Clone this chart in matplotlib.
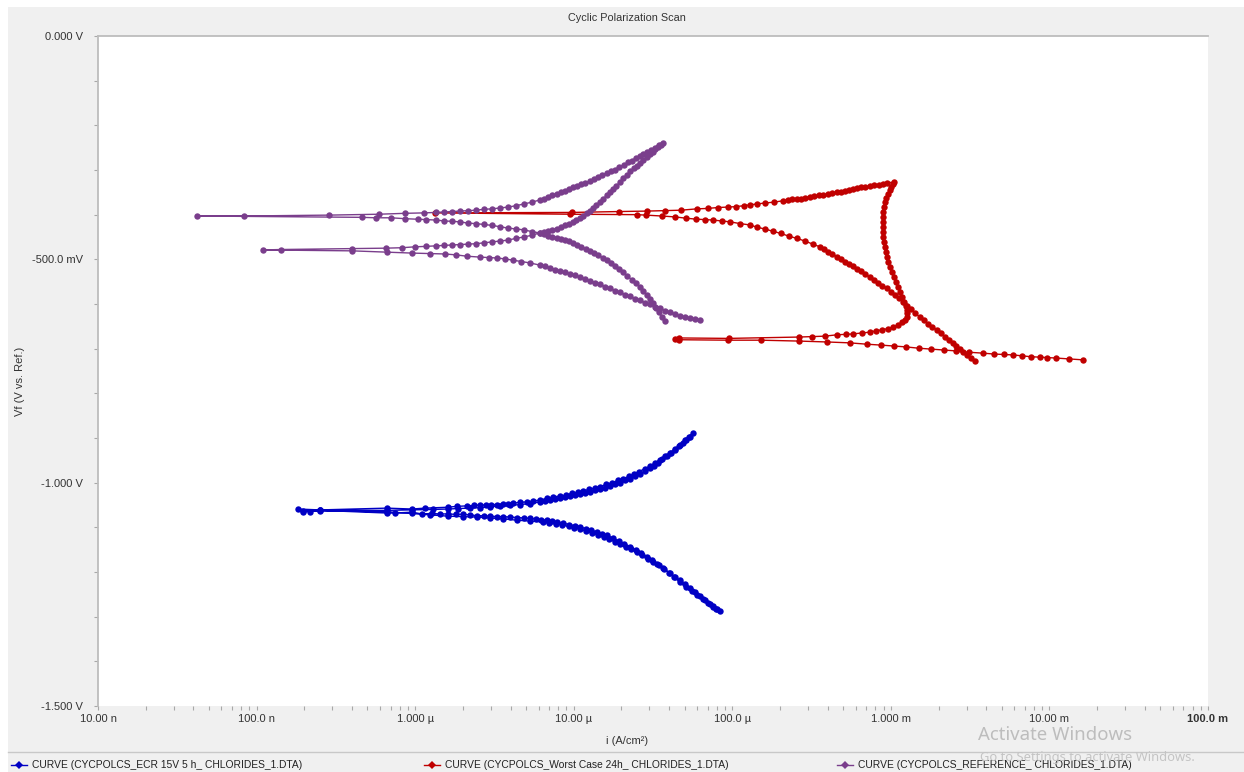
import matplotlib
matplotlib.use("Agg")
import matplotlib.pyplot as plt
import numpy as np
from matplotlib.lines import Line2D
from matplotlib.patches import Rectangle

plt.rcParams['font.family'] = ['Liberation Sans', 'DejaVu Sans']

# ---------------- data: current density (A/cm^2) and potential (V vs. Ref.) ----------------
# CYCPOLCS_ECR 15V 5 h_ CHLORIDES_1  (blue)
ecr_cath_fwd_i = [8.35e-5, 7.88e-5, 7.54e-5, 7.02e-5, 6.52e-5, 5.98e-5, 5.56e-5, 5.10e-5, 4.67e-5, 4.28e-5,
                  3.98e-5, 3.65e-5, 3.35e-5, 3.11e-5, 2.89e-5, 2.65e-5, 2.47e-5, 2.26e-5, 2.07e-5, 1.93e-5,
                  1.77e-5, 1.62e-5, 1.51e-5, 1.40e-5, 1.28e-5, 1.19e-5, 1.09e-5, 1.02e-5, 9.32e-6, 8.55e-6,
                  7.83e-6, 7.28e-6, 6.77e-6, 6.21e-6, 5.78e-6, 5.29e-6, 4.85e-6, 4.38e-6, 3.96e-6, 3.58e-6,
                  3.28e-6, 2.96e-6, 2.71e-6, 2.45e-6, 2.22e-6, 2.00e-6, 1.81e-6, 1.61e-6, 1.43e-6, 1.28e-6,
                  1.10e-6, 9.54e-7, 7.45e-7, 6.64e-7, 2.51e-7, 2.17e-7, 1.96e-7, 1.82e-7]
ecr_cath_fwd_v = [-1.287, -1.283, -1.278, -1.269, -1.260, -1.252, -1.243, -1.234, -1.222, -1.211,
                  -1.202, -1.191, -1.182, -1.173, -1.166, -1.157, -1.151, -1.144, -1.137, -1.131,
                  -1.124, -1.118, -1.114, -1.110, -1.106, -1.103, -1.099, -1.096, -1.094, -1.090,
                  -1.088, -1.086, -1.084, -1.083, -1.081, -1.080, -1.079, -1.078, -1.077, -1.076,
                  -1.076, -1.075, -1.074, -1.074, -1.072, -1.071, -1.071, -1.070, -1.070, -1.069,
                  -1.070, -1.066, -1.068, -1.068, -1.062, -1.065, -1.065, -1.059]
ecr_anod_fwd_i = [2.51e-7, 6.64e-7, 9.54e-7, 1.15e-6, 1.61e-6, 1.83e-6, 2.12e-6, 2.35e-6, 2.56e-6, 2.79e-6,
                  3.01e-6, 3.28e-6, 3.58e-6, 3.85e-6, 4.14e-6, 4.58e-6, 5.07e-6, 5.53e-6, 6.12e-6, 6.77e-6,
                  7.39e-6, 8.18e-6, 8.93e-6, 9.74e-6, 1.06e-5, 1.14e-5, 1.25e-5, 1.36e-5, 1.46e-5, 1.60e-5,
                  1.74e-5, 1.90e-5, 2.04e-5, 2.23e-5, 2.40e-5, 2.58e-5, 2.81e-5, 3.02e-5, 3.25e-5, 3.49e-5,
                  3.76e-5, 4.04e-5, 4.34e-5, 4.67e-5, 5.02e-5, 5.32e-5, 5.64e-5]
ecr_anod_fwd_v = [-1.061, -1.057, -1.059, -1.057, -1.055, -1.053, -1.052, -1.051, -1.050, -1.050,
                  -1.049, -1.049, -1.048, -1.047, -1.046, -1.044, -1.043, -1.041, -1.039, -1.035,
                  -1.032, -1.030, -1.028, -1.024, -1.021, -1.019, -1.015, -1.012, -1.009, -1.004,
                  -1.000, -0.995, -0.991, -0.986, -0.981, -0.975, -0.969, -0.963, -0.956, -0.949,
                  -0.941, -0.934, -0.925, -0.915, -0.905, -0.897, -0.889]
ecr_anod_rev_i = [5.40e-5, 5.13e-5, 4.88e-5, 4.60e-5, 4.34e-5, 4.10e-5, 3.87e-5, 3.62e-5, 3.40e-5, 3.20e-5,
                  3.02e-5, 2.81e-5, 2.61e-5, 2.43e-5, 2.26e-5, 2.10e-5, 1.96e-5, 1.82e-5, 1.69e-5, 1.57e-5,
                  1.46e-5, 1.36e-5, 1.27e-5, 1.18e-5, 1.09e-5, 1.02e-5, 9.46e-6, 8.80e-6, 8.18e-6, 7.61e-6,
                  7.08e-6, 6.58e-6, 6.12e-6, 5.29e-6, 4.58e-6, 3.96e-6, 3.42e-6, 2.96e-6, 2.56e-6, 2.22e-6,
                  1.86e-6, 1.61e-6, 1.29e-6, 9.54e-7, 6.64e-7, 2.51e-7, 1.96e-7]
ecr_anod_rev_v = [-0.898, -0.904, -0.911, -0.919, -0.927, -0.934, -0.940, -0.948, -0.956, -0.962,
                  -0.967, -0.974, -0.981, -0.986, -0.991, -0.995, -1.000, -1.004, -1.007, -1.011,
                  -1.014, -1.017, -1.020, -1.023, -1.025, -1.028, -1.030, -1.032, -1.034, -1.037,
                  -1.039, -1.041, -1.043, -1.047, -1.049, -1.051, -1.052, -1.054, -1.056, -1.057,
                  -1.058, -1.059, -1.060, -1.061, -1.062, -1.062, -1.063]
ecr_cath_rev_i = [2.51e-7, 6.64e-7, 9.54e-7, 1.24e-6, 1.61e-6, 2.00e-6, 2.45e-6, 2.96e-6, 3.58e-6, 4.38e-6,
                  5.29e-6, 6.39e-6, 7.03e-6, 7.72e-6, 8.48e-6, 9.32e-6, 1.01e-5, 1.09e-5, 1.19e-5, 1.30e-5,
                  1.42e-5, 1.55e-5, 1.68e-5, 1.82e-5, 1.97e-5, 2.13e-5, 2.31e-5, 2.50e-5, 2.71e-5, 2.94e-5,
                  3.18e-5, 3.44e-5, 3.73e-5, 4.04e-5, 4.34e-5, 4.67e-5, 5.02e-5, 5.40e-5, 5.81e-5, 6.25e-5,
                  6.72e-5, 7.22e-5, 7.60e-5, 7.99e-5]
ecr_cath_rev_v = [-1.063, -1.065, -1.069, -1.072, -1.075, -1.076, -1.077, -1.079, -1.081, -1.084,
                  -1.086, -1.088, -1.090, -1.092, -1.095, -1.098, -1.101, -1.104, -1.108, -1.112,
                  -1.117, -1.122, -1.127, -1.132, -1.137, -1.143, -1.149, -1.155, -1.162, -1.170,
                  -1.178, -1.185, -1.194, -1.202, -1.211, -1.219, -1.227, -1.236, -1.245, -1.254,
                  -1.263, -1.272, -1.277, -1.283]

# CYCPOLCS_Worst Case 24h_ CHLORIDES_1  (red)
worst_cath_fwd_i = [1.62e-2, 1.33e-2, 1.10e-2, 9.63e-3, 8.70e-3, 7.63e-3, 6.70e-3, 5.88e-3, 5.16e-3, 4.46e-3,
                    3.80e-3, 3.10e-3, 2.57e-3, 2.16e-3, 1.79e-3, 1.50e-3, 1.24e-3, 1.04e-3, 8.65e-4, 7.06e-4,
                    5.51e-4, 3.95e-4, 2.63e-4, 1.51e-4, 9.38e-5, 4.60e-5, 4.34e-5]
worst_cath_fwd_v = [-0.725, -0.723, -0.721, -0.720, -0.719, -0.718, -0.716, -0.714, -0.713, -0.712,
                    -0.710, -0.708, -0.705, -0.703, -0.701, -0.699, -0.696, -0.694, -0.692, -0.690,
                    -0.687, -0.685, -0.683, -0.681, -0.681, -0.680, -0.678]
worst_anod_fwd_i = [4.60e-5, 9.52e-5, 2.63e-4, 3.18e-4, 3.83e-4, 4.56e-4, 5.20e-4, 5.76e-4, 6.56e-4, 7.37e-4,
                    8.04e-4, 8.77e-4, 9.57e-4, 1.03e-3, 1.11e-3, 1.17e-3, 1.23e-3, 1.26e-3, 1.27e-3, 1.26e-3,
                    1.24e-3, 1.21e-3, 1.17e-3, 1.14e-3, 1.11e-3, 1.08e-3, 1.04e-3, 1.01e-3, 9.85e-4, 9.57e-4,
                    9.43e-4, 9.30e-4, 9.16e-4, 9.03e-4, 8.96e-4, 8.90e-4, 8.90e-4, 8.90e-4, 8.90e-4, 8.90e-4,
                    9.03e-4, 9.16e-4, 9.30e-4, 9.57e-4, 9.85e-4, 1.00e-3, 1.03e-3, 1.04e-3]
worst_anod_fwd_v = [-0.676, -0.677, -0.674, -0.673, -0.672, -0.669, -0.668, -0.667, -0.665, -0.663,
                    -0.660, -0.658, -0.655, -0.652, -0.647, -0.641, -0.636, -0.629, -0.621, -0.613,
                    -0.605, -0.596, -0.584, -0.573, -0.562, -0.551, -0.540, -0.528, -0.517, -0.506,
                    -0.495, -0.484, -0.472, -0.461, -0.450, -0.439, -0.428, -0.416, -0.405, -0.394,
                    -0.383, -0.372, -0.363, -0.354, -0.345, -0.338, -0.331, -0.327]
worst_anod_rev_i = [9.43e-4, 8.90e-4, 8.40e-4, 7.87e-4, 7.37e-4, 6.90e-4, 6.47e-4, 6.10e-4, 5.76e-4, 5.43e-4,
                    5.13e-4, 4.84e-4, 4.56e-4, 4.28e-4, 4.01e-4, 3.75e-4, 3.51e-4, 3.29e-4, 3.08e-4, 2.89e-4,
                    2.71e-4, 2.55e-4, 2.38e-4, 2.23e-4, 2.08e-4, 1.83e-4, 1.60e-4, 1.43e-4, 1.29e-4, 1.18e-4,
                    1.05e-4, 9.38e-5, 8.11e-5, 7.02e-5, 5.98e-5, 4.74e-5, 3.76e-5, 2.89e-5, 1.93e-5, 9.74e-6,
                    1.33e-6]
worst_anod_rev_v = [-0.329, -0.331, -0.333, -0.334, -0.336, -0.338, -0.339, -0.341, -0.343, -0.345,
                    -0.347, -0.349, -0.350, -0.352, -0.354, -0.356, -0.357, -0.359, -0.360, -0.362,
                    -0.364, -0.365, -0.366, -0.368, -0.369, -0.372, -0.374, -0.376, -0.378, -0.380,
                    -0.382, -0.383, -0.384, -0.386, -0.387, -0.390, -0.391, -0.392, -0.393, -0.395,
                    -0.396]
worst_cath_rev_i = [9.46e-6, 2.50e-5, 2.85e-5, 3.58e-5, 4.34e-5, 5.14e-5, 5.89e-5, 6.72e-5, 7.54e-5, 8.60e-5,
                    9.65e-5, 1.12e-4, 1.29e-4, 1.43e-4, 1.60e-4, 1.80e-4, 2.02e-4, 2.27e-4, 2.55e-4, 2.87e-4,
                    3.22e-4, 3.57e-4, 3.78e-4, 4.01e-4, 4.28e-4, 4.56e-4, 4.84e-4, 5.13e-4, 5.43e-4, 5.76e-4,
                    6.10e-4, 6.47e-4, 6.90e-4, 7.37e-4, 7.81e-4, 8.28e-4, 8.84e-4, 9.43e-4, 1.00e-3, 1.06e-3,
                    1.12e-3, 1.19e-3, 1.26e-3, 1.34e-3, 1.43e-3, 1.52e-3, 1.61e-3, 1.71e-3, 1.83e-3, 1.95e-3,
                    2.07e-3, 2.19e-3, 2.32e-3, 2.46e-3, 2.59e-3, 2.72e-3, 2.86e-3, 3.01e-3, 3.19e-3, 3.39e-3]
worst_cath_rev_v = [-0.399, -0.400, -0.401, -0.403, -0.405, -0.408, -0.410, -0.411, -0.412, -0.414,
                    -0.416, -0.420, -0.423, -0.428, -0.432, -0.437, -0.442, -0.448, -0.453, -0.459,
                    -0.466, -0.472, -0.477, -0.483, -0.488, -0.494, -0.499, -0.505, -0.510, -0.516,
                    -0.522, -0.527, -0.533, -0.540, -0.546, -0.552, -0.559, -0.565, -0.573, -0.580,
                    -0.587, -0.596, -0.604, -0.612, -0.621, -0.629, -0.636, -0.644, -0.651, -0.658,
                    -0.665, -0.673, -0.680, -0.687, -0.694, -0.701, -0.707, -0.714, -0.721, -0.728]

# CYCPOLCS_REFERENCE_ CHLORIDES_1  (purple)
ref_cath_fwd_i = [3.76e-5, 3.58e-5, 3.44e-5, 3.30e-5, 3.16e-5, 3.02e-5, 2.89e-5, 2.75e-5, 2.61e-5, 2.47e-5,
                  2.33e-5, 2.18e-5, 2.04e-5, 1.93e-5, 1.82e-5, 1.72e-5, 1.62e-5, 1.52e-5, 1.42e-5, 1.34e-5,
                  1.27e-5, 1.19e-5, 1.11e-5, 1.05e-5, 9.88e-6, 9.32e-6, 8.80e-6, 8.30e-6, 7.83e-6, 7.34e-6,
                  6.87e-6, 6.49e-6, 6.12e-6, 5.45e-6, 4.85e-6, 4.32e-6, 3.85e-6, 3.42e-6, 3.05e-6, 2.71e-6,
                  2.42e-6, 2.15e-6, 1.92e-6, 1.71e-6, 1.52e-6, 1.35e-6, 1.17e-6, 1.04e-6, 8.62e-7, 7.04e-7,
                  5.66e-7, 4.62e-7, 4.21e-8]
ref_cath_fwd_v = [-0.638, -0.628, -0.618, -0.608, -0.598, -0.589, -0.580, -0.571, -0.562, -0.554,
                  -0.546, -0.537, -0.528, -0.522, -0.515, -0.508, -0.502, -0.496, -0.490, -0.486,
                  -0.481, -0.477, -0.472, -0.468, -0.463, -0.460, -0.457, -0.454, -0.452, -0.449,
                  -0.447, -0.443, -0.441, -0.438, -0.434, -0.432, -0.430, -0.427, -0.424, -0.422,
                  -0.420, -0.419, -0.416, -0.415, -0.414, -0.412, -0.411, -0.410, -0.409, -0.407,
                  -0.407, -0.406, -0.403]
ref_anod_fwd_i = [8.33e-8, 2.86e-7, 5.91e-7, 8.62e-7, 1.14e-6, 1.35e-6, 1.52e-6, 1.71e-6, 1.92e-6, 2.15e-6,
                  2.42e-6, 2.71e-6, 3.05e-6, 3.42e-6, 3.85e-6, 4.32e-6, 4.85e-6, 5.45e-6, 6.12e-6, 6.49e-6,
                  6.87e-6, 7.28e-6, 7.83e-6, 8.30e-6, 8.80e-6, 9.32e-6, 9.88e-6, 1.05e-5, 1.11e-5, 1.18e-5,
                  1.27e-5, 1.34e-5, 1.42e-5, 1.51e-5, 1.62e-5, 1.72e-5, 1.82e-5, 1.93e-5, 2.07e-5, 2.20e-5,
                  2.33e-5, 2.47e-5, 2.61e-5, 2.73e-5, 2.89e-5, 3.07e-5, 3.25e-5, 3.44e-5, 3.65e-5]
ref_anod_fwd_v = [-0.403, -0.401, -0.399, -0.397, -0.396, -0.395, -0.394, -0.393, -0.392, -0.391,
                  -0.390, -0.388, -0.387, -0.385, -0.383, -0.380, -0.376, -0.372, -0.367, -0.364,
                  -0.360, -0.357, -0.353, -0.349, -0.346, -0.343, -0.339, -0.336, -0.332, -0.329,
                  -0.325, -0.320, -0.316, -0.311, -0.307, -0.302, -0.299, -0.293, -0.289, -0.283,
                  -0.279, -0.273, -0.269, -0.264, -0.260, -0.255, -0.250, -0.244, -0.240]
ref_anod_rev_i = [3.55e-5, 3.40e-5, 3.27e-5, 3.16e-5, 3.02e-5, 2.89e-5, 2.75e-5, 2.61e-5, 2.50e-5, 2.40e-5,
                  2.28e-5, 2.16e-5, 2.06e-5, 1.96e-5, 1.86e-5, 1.77e-5, 1.69e-5, 1.62e-5, 1.54e-5, 1.46e-5,
                  1.39e-5, 1.32e-5, 1.27e-5, 1.21e-5, 1.15e-5, 1.09e-5, 1.04e-5, 9.88e-6, 9.32e-6, 8.80e-6,
                  8.30e-6, 7.83e-6, 7.34e-6, 6.87e-6, 6.49e-6, 6.12e-6, 5.45e-6, 4.85e-6, 4.32e-6, 3.85e-6,
                  3.42e-6, 3.05e-6, 2.71e-6, 2.42e-6, 2.15e-6, 1.92e-6, 1.71e-6, 1.52e-6, 1.35e-6, 1.17e-6,
                  9.97e-7, 8.25e-7, 6.54e-7, 3.99e-7, 1.43e-7, 1.10e-7]
ref_anod_rev_v = [-0.244, -0.249, -0.253, -0.259, -0.264, -0.271, -0.278, -0.284, -0.290, -0.296,
                  -0.303, -0.311, -0.319, -0.327, -0.335, -0.343, -0.349, -0.356, -0.364, -0.372,
                  -0.378, -0.385, -0.391, -0.396, -0.402, -0.408, -0.412, -0.416, -0.421, -0.424,
                  -0.428, -0.431, -0.434, -0.437, -0.439, -0.441, -0.446, -0.450, -0.453, -0.457,
                  -0.459, -0.461, -0.463, -0.465, -0.466, -0.467, -0.468, -0.469, -0.470, -0.471,
                  -0.472, -0.474, -0.475, -0.476, -0.478, -0.479]
ref_cath_rev_i = [3.99e-7, 6.64e-7, 9.54e-7, 1.24e-6, 1.54e-6, 1.81e-6, 2.12e-6, 2.56e-6, 2.92e-6, 3.28e-6,
                  3.68e-6, 4.14e-6, 4.65e-6, 5.29e-6, 6.12e-6, 6.58e-6, 7.08e-6, 7.61e-6, 8.18e-6, 8.80e-6,
                  9.46e-6, 1.02e-5, 1.09e-5, 1.18e-5, 1.27e-5, 1.36e-5, 1.46e-5, 1.57e-5, 1.69e-5, 1.82e-5,
                  1.96e-5, 2.10e-5, 2.26e-5, 2.43e-5, 2.61e-5, 2.81e-5, 3.02e-5, 3.25e-5, 3.49e-5, 3.76e-5,
                  4.04e-5, 4.34e-5, 4.67e-5, 5.02e-5, 5.40e-5, 5.81e-5, 6.25e-5]
ref_cath_rev_v = [-0.481, -0.484, -0.486, -0.487, -0.488, -0.490, -0.493, -0.495, -0.496, -0.497,
                  -0.499, -0.502, -0.505, -0.508, -0.513, -0.516, -0.519, -0.523, -0.526, -0.529,
                  -0.533, -0.536, -0.540, -0.545, -0.549, -0.552, -0.556, -0.561, -0.565, -0.570,
                  -0.574, -0.579, -0.583, -0.588, -0.592, -0.597, -0.601, -0.606, -0.610, -0.615,
                  -0.619, -0.623, -0.627, -0.630, -0.632, -0.634, -0.636]

series_labels = ["CURVE (CYCPOLCS_ECR 15V 5 h_ CHLORIDES_1.DTA)",
                 "CURVE (CYCPOLCS_Worst Case 24h_ CHLORIDES_1.DTA)",
                 "CURVE (CYCPOLCS_REFERENCE_ CHLORIDES_1.DTA)"]
series_colors = ["#0000C4", "#C00000", "#7A3E8C"]

y_ticks = [0.0, -0.5, -1.0, -1.5]
y_tick_labels = ["0.000 V", "-500.0 mV", "-1.000 V", "-1.500 V"]
x_ticks = [1e-8, 1e-7, 1e-6, 1e-5, 1e-4, 1e-3, 1e-2, 1e-1]
x_tick_labels = ["10.00 n", "100.0 n", "1.000 µ", "10.00 µ", "100.0 µ", "1.000 m", "10.00 m", "100.0 m"]

# --------------- assemble full scan paths ---------------
ecr_i = ecr_cath_fwd_i + ecr_anod_fwd_i + ecr_anod_rev_i + ecr_cath_rev_i
ecr_v = ecr_cath_fwd_v + ecr_anod_fwd_v + ecr_anod_rev_v + ecr_cath_rev_v
worst_i = worst_cath_fwd_i + worst_anod_fwd_i + worst_anod_rev_i + worst_cath_rev_i
worst_v = worst_cath_fwd_v + worst_anod_fwd_v + worst_anod_rev_v + worst_cath_rev_v
ref_i = ref_cath_fwd_i + ref_anod_fwd_i + ref_anod_rev_i + ref_cath_rev_i
ref_v = ref_cath_fwd_v + ref_anod_fwd_v + ref_anod_rev_v + ref_cath_rev_v

W, H = 1244, 772
fig = plt.figure(figsize=(W / 100, H / 100), dpi=100, facecolor="white")
fig.patches.append(Rectangle((8 / W, 0), 1 - 8 / W, 1 - 7 / H, transform=fig.transFigure,
                             facecolor="#F0F0F0", edgecolor="none", zorder=-10))

ax = fig.add_axes([98 / W, 1 - 706 / H, (1208 - 98) / W, (706 - 36) / H])
ax.set_facecolor("white")

for xs, ys, col in [(ecr_i, ecr_v, series_colors[0]),
                    (worst_i, worst_v, series_colors[1]),
                    (ref_i, ref_v, series_colors[2])]:
    ax.plot(xs, ys, color=col, lw=1.0, marker="o", markersize=4.6, markeredgewidth=0,
            solid_joinstyle="round")

ax.set_xscale("log")
ax.set_xlim(1e-8, 1e-1)
ax.set_ylim(-1.5, 0.0)

ax.set_xticks(x_ticks)
ax.set_xticklabels(x_tick_labels)
ax.set_xticks([m * 10.0 ** e for e in range(-8, -1) for m in range(2, 10)], minor=True)
ax.xaxis.set_minor_formatter(plt.NullFormatter())
ax.set_yticks(y_ticks)
ax.set_yticklabels(y_tick_labels)
ax.set_yticks(np.arange(-1.5, 0.001, 0.1), minor=True)

ax.tick_params(axis="both", which="both", colors="#A8A8A8", labelcolor="#333333", labelsize=8,
               length=3, width=0.8)
ax.tick_params(axis="y", which="major", pad=8)
ax.tick_params(axis="x", which="major", pad=3)
ax.get_xticklabels()[-1].set_fontweight("bold")

for side in ("right", "bottom"):
    ax.spines[side].set_visible(False)
for side in ("top", "left"):
    ax.spines[side].set_color("#BDBDBD")
    ax.spines[side].set_linewidth(1.3)

fig.text(627 / W, 1 - 18 / H, "Cyclic Polarization Scan", ha="center", va="center",
         fontsize=7.8, color="#333333")
fig.text(627 / W, 1 - 741 / H, "i (A/cm²)", ha="center", va="center", fontsize=8, color="#333333")
fig.text(20 / W, 1 - 381 / H, "Vf (V vs. Ref.)", ha="center", va="center", rotation=90,
         fontsize=8, color="#333333")

# legend strip
fig.add_artist(Line2D([8 / W, 1.0], [1 - 752 / H] * 2, transform=fig.transFigure,
                      color="#C8C8C8", lw=1.0))
legend_x = [11, 424, 837]
ly = 1 - 765 / H
for x0, col, lab in zip(legend_x, series_colors, series_labels):
    fig.add_artist(Line2D([x0 / W, (x0 + 16) / W], [ly, ly], transform=fig.transFigure,
                          color=col, lw=1.0))
    fig.add_artist(Line2D([(x0 + 8) / W], [ly], transform=fig.transFigure, color=col,
                          marker="D", markersize=4.2, markeredgewidth=0))
    fig.text((x0 + 21) / W, ly, lab, ha="left", va="center", fontsize=7.4, color="#222222")

# system watermark overlay
fig.text(978 / W, 1 - 735 / H, "Activate Windows", ha="left", va="center", fontsize=13.4,
         color="#BDBDBD", family=["Noto Sans", "DejaVu Sans"], zorder=20)
fig.text(980 / W, 1 - 757 / H, "Go to Settings to activate Windows.", ha="left", va="center",
         fontsize=9.3, color="#C4C4C4", family=["Noto Sans", "DejaVu Sans"], zorder=20)

fig.savefig("out.png", dpi=100, facecolor=fig.get_facecolor())
